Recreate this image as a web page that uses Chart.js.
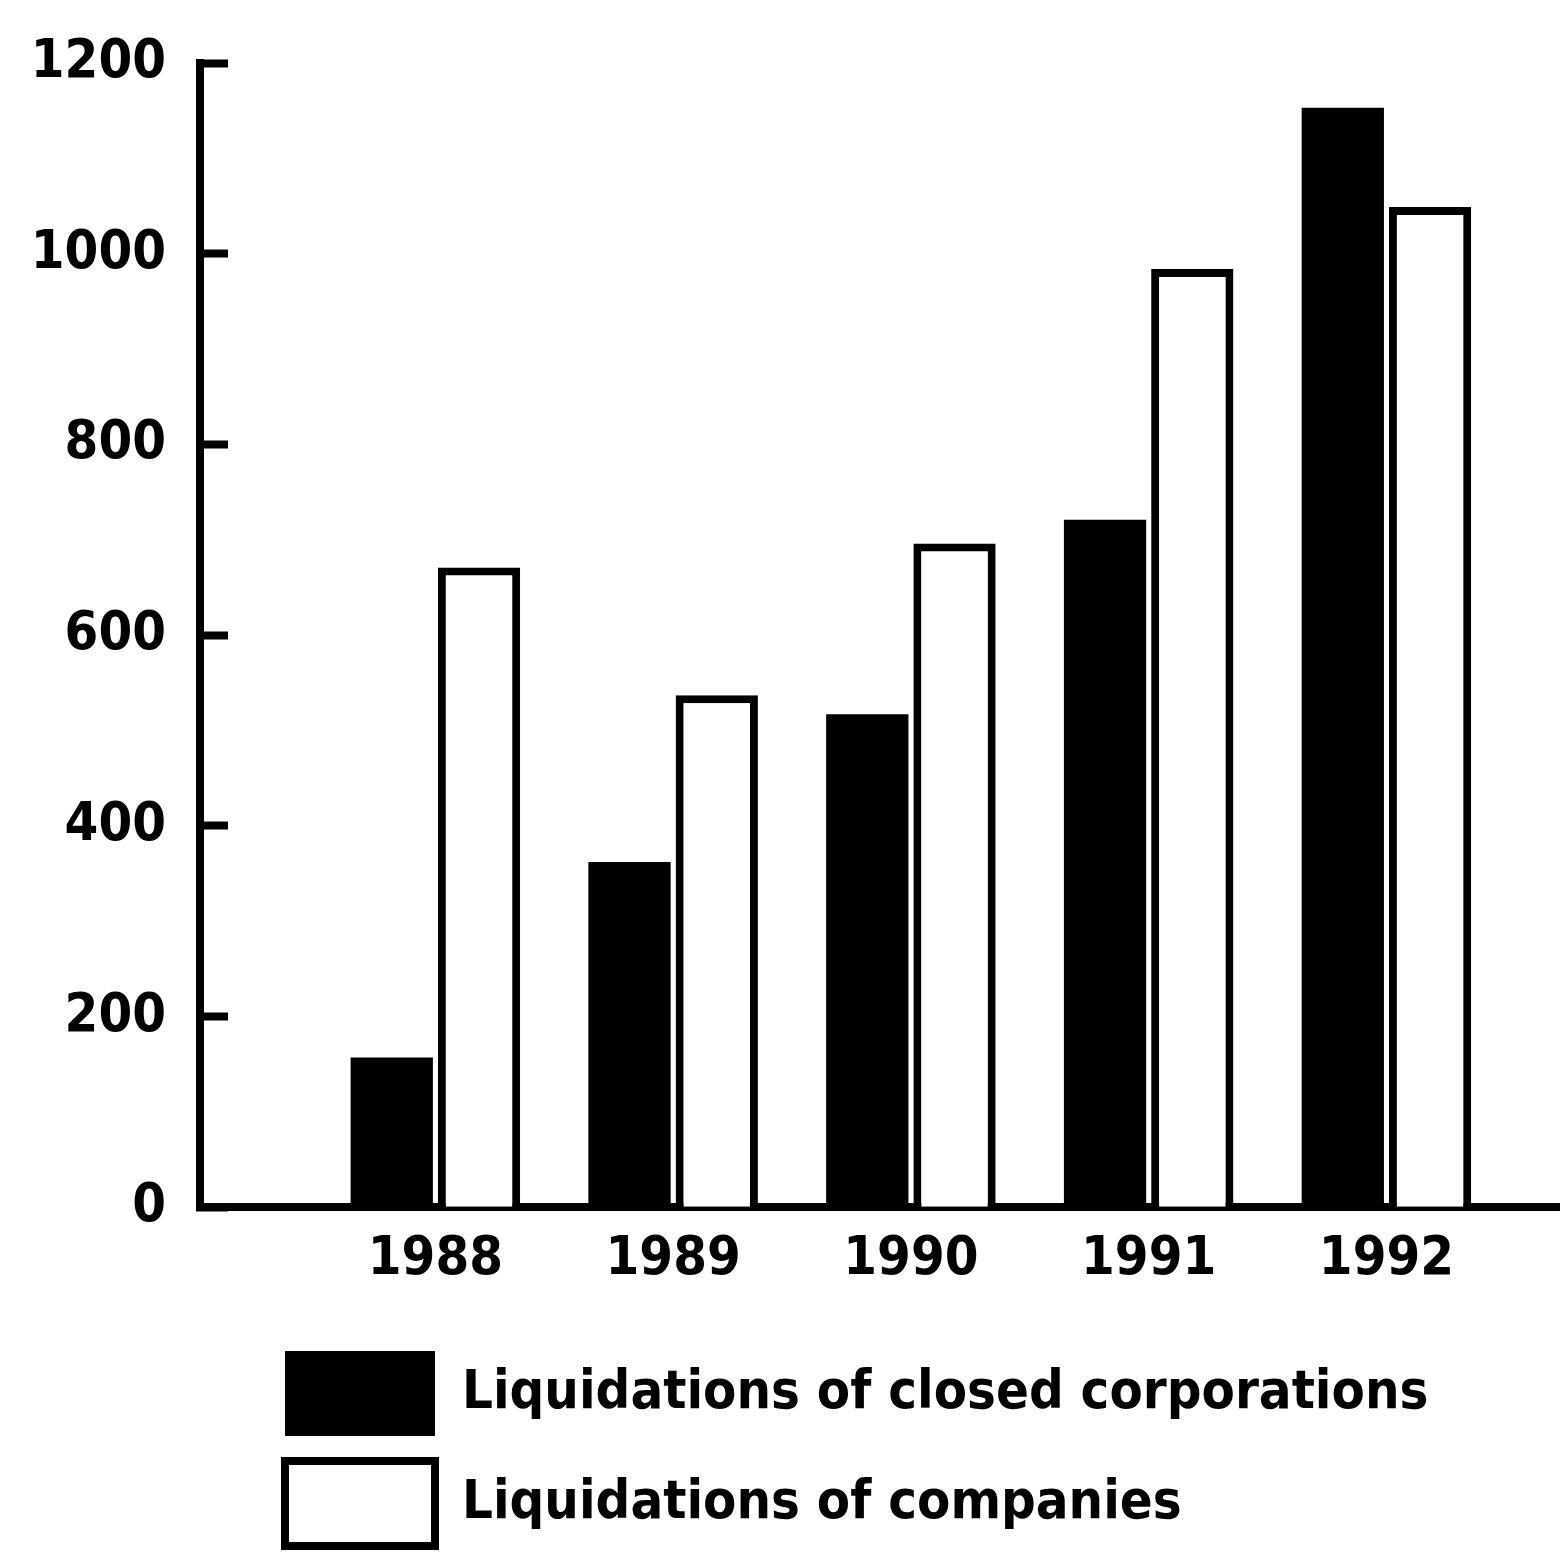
<!DOCTYPE html>
<html>
<head>
<meta charset="utf-8">
<script src="https://cdn.jsdelivr.net/npm/chart.js@4/dist/chart.umd.min.js"></script>
<style>
  html, body { margin: 0; padding: 0; background: #fff; }
  #wrap { width: 1560px; height: 1556px; position: relative; }
</style>
</head>
<body>
<div id="wrap"><canvas id="liqChart"></canvas></div>
<script>
// Chart data
const years = ['1988', '1989', '1990', '1991', '1992'];
const closedCorporations = [157, 362, 517, 721, 1153];
const companies = [671, 537, 696, 984, 1049];
const yTicks = [0, 200, 400, 600, 800, 1000, 1200];
const seriesNames = ['Liquidations of closed corporations', 'Liquidations of companies'];

// The original uses a heavy condensed sans; take the narrowest one we have
function pickFont(candidates) {
    const c = document.createElement('canvas').getContext('2d');
    const probe = 'Liquidations 1988';
    c.font = 'bold 72px monospace';
    const base = c.measureText(probe).width;
    for (const f of candidates) {
        c.font = 'bold 72px "' + f + '", monospace';
        if (Math.abs(c.measureText(probe).width - base) > 0.5) return f;
    }
    return 'sans-serif';
}
const family = pickFont(['Liberation Sans Narrow', 'Noto Sans ExtraCondensed', 'Noto Sans Condensed',
    'DejaVu Sans Condensed', 'Liberation Sans']);
const FONT = '"' + family + '", sans-serif';

// size the text so the long legend entry is as wide as in the scan
function fitSize() {
    const c = document.createElement('canvas').getContext('2d');
    c.font = 'bold 100px ' + FONT;
    const w = c.measureText(seriesNames[0]).width;
    return Math.min(78, Math.round(100 * 960 / w));
}
const fontSize = fitSize();

// Move the legend right so the boxes sit under the plot like the original
const legendShift = {
    id: 'legendShift',
    afterLayout(chart) {
        if (chart.legend) {
            chart.legend.left += 260;
        }
    }
};

const ctx = document.getElementById('liqChart');
new Chart(ctx.getContext('2d'), {
    type: 'bar',
    data: {
        datasets: [{
            label: seriesNames[0],
            data: closedCorporations.map(function(v, i) { return {x: i, y: v}; }),
            backgroundColor: '#000',
            borderColor: '#000',
            borderWidth: 0
        }, {
            label: seriesNames[1],
            data: companies.map(function(v, i) { return {x: i, y: v}; }),
            backgroundColor: '#fff',
            borderColor: '#000',
            borderWidth: 8
        }]
    },
    options: {
        responsive: true,
        maintainAspectRatio: false,
        animation: false,
        categoryPercentage: 0.734,
        barPercentage: 0.943,
        layout: {
            padding: { top: 63, right: 0, left: 0, bottom: 0 }
        },
        plugins: {
            tooltip: { enabled: false },
            legend: {
                position: 'bottom',
                align: 'start',
                labels: {
                    boxWidth: 150,
                    boxHeight: 85,
                    padding: 25,
                    color: '#000',
                    font: { family: FONT, size: fontSize, weight: 'bold' }
                }
            }
        },
        scales: {
            x: {
                type: 'linear',
                offset: false,
                min: -0.99,
                max: 4.73,
                afterFit: function(scale) { scale.height += 22; },
                grid: { display: false },
                border: { display: true, color: '#000', width: 8 },
                ticks: {
                    stepSize: 1,
                    includeBounds: false,
                    autoSkip: false,
                    maxRotation: 0,
                    padding: 12,
                    color: '#000',
                    font: { family: FONT, size: fontSize, weight: 'bold' },
                    callback: function(value) {
                        return years[value] !== undefined ? years[value] : '';
                    }
                }
            },
            y: {
                min: 0,
                max: 1200,
                afterFit: function(scale) {
                    scale.width = 200;
                    scale.paddingTop = 0;
                    scale.paddingBottom = 0;
                },
                afterBuildTicks: function(scale) {
                    scale.ticks = yTicks.map(function(v) { return {value: v}; });
                },
                grid: {
                    display: true,
                    drawOnChartArea: false,
                    drawTicks: true,
                    tickLength: -28,
                    tickWidth: 8,
                    tickColor: '#000'
                },
                border: { display: true, color: '#000', width: 8 },
                ticks: {
                    padding: 62,
                    color: '#000',
                    font: { family: FONT, size: fontSize, weight: 'bold' },
                    callback: function(value) { return String(value); }
                }
            }
        }
    },
    plugins: [legendShift]
});
</script>
</body>
</html>
